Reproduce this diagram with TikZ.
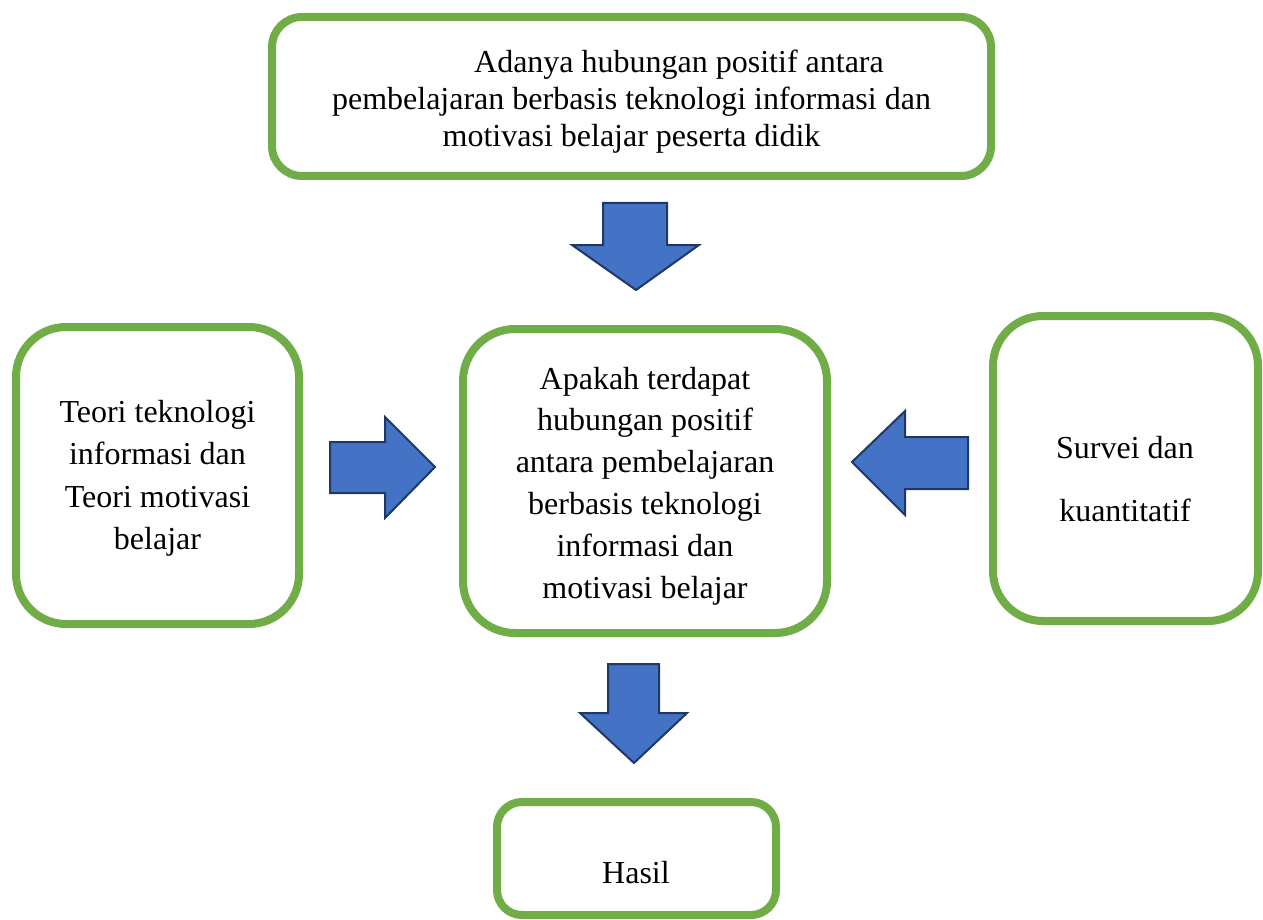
\documentclass[tikz,border=0pt]{standalone}
\usepackage{fontspec}
\setmainfont{Liberation Serif}
\definecolor{boxgreen}{HTML}{70AD47}
\definecolor{arrowblue}{HTML}{4472C4}
\definecolor{arrowedge}{HTML}{1F3864}
\tikzset{
  gbox/.style={draw=boxgreen, line width=8pt, fill=white, rectangle, align=center, inner sep=0pt, text=black},
  barrow/.style={fill=arrowblue, draw=arrowedge, line width=2pt, line join=miter},
  txt/.style={font=\fontsize{32}{37}\selectfont}
}
\begin{document}
\begin{tikzpicture}[x=1pt,y=-1pt]
\useasboundingbox (0,0) rectangle (1263,920);
% boxes
\node[gbox, minimum width=719pt, minimum height=159pt, rounded corners=30pt,
      font=\fontsize{32}{37}\selectfont] (top) at (631.5,96.5)
  {\rule{0pt}{32pt}\hspace*{95pt}Adanya hubungan positif antara\\pembelajaran berbasis teknologi informasi dan\\motivasi belajar peserta didik};
\node[gbox, minimum width=283pt, minimum height=297pt, rounded corners=50pt,
      font=\fontsize{32}{42.5}\selectfont] (teori) at (157.5,475.5)
  {\rule{0pt}{28pt}Teori teknologi\\informasi dan\\Teori motivasi\\belajar};
\node[gbox, minimum width=364pt, minimum height=304pt, rounded corners=52pt,
      font=\fontsize{32}{41.8}\selectfont] (tanya) at (645,481)
  {\rule{0pt}{32pt}Apakah terdapat\\hubungan positif\\antara pembelajaran\\berbasis teknologi\\informasi dan\\motivasi belajar};
\node[gbox, minimum width=265pt, minimum height=305pt, rounded corners=50pt] (survei) at (1125.5,468.5) {};
\node[txt, align=center, font=\fontsize{32}{63}\selectfont] (surveitext) at (1125,479) {Survei dan\\kuantitatif};
\node[gbox, minimum width=279pt, minimum height=113pt, rounded corners=25pt] (hasil) at (636.5,858.5) {};
\node[txt] (hasiltext) at (636,873) {Hasil};
% block arrows
\draw[barrow] (603,203) -- (667,203) -- (667,245) -- (699,245) -- (636,290) -- (572,245) -- (603,245) -- cycle;
\draw[barrow] (330,442) -- (385,442) -- (385,417) -- (435,467) -- (385,518) -- (385,493) -- (330,493) -- cycle;
\draw[barrow] (968,437) -- (905,437) -- (905,411) -- (852,462) -- (905,515) -- (905,489) -- (968,489) -- cycle;
\draw[barrow] (608,664) -- (659,664) -- (659,713) -- (687,713) -- (634,763) -- (580,713) -- (608,713) -- cycle;
\end{tikzpicture}
\end{document}
